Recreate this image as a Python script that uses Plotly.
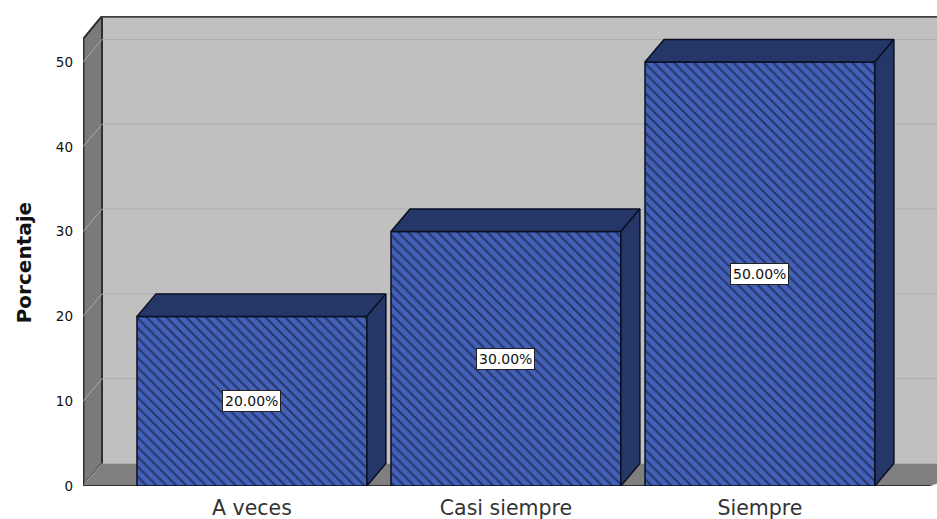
import plotly.graph_objects as go

categories = ["A veces", "Casi siempre", "Siempre"]
values = [20, 30, 50]
labels = ["20.00%", "30.00%", "50.00%"]
y_ticks = [0, 10, 20, 30, 40, 50]
y_title = "Porcentaje"

BAR_W = 0.905
DX = 19 / 254
DY = 22.5 / 8.48
XMIN, XMAX = -0.665, 2.697
YTOP = 55.42
FLOOR_END = 2.672
BLUE_SIDE = "#253668"
FONT = "DejaVu Sans"

fig = go.Figure()

fig.add_trace(go.Bar(
    x=list(range(len(categories))), y=values, width=BAR_W,
    marker=dict(color="#3f5cae", line=dict(color="#0a1020", width=1.5),
                pattern=dict(shape="\\", size=7, solidity=0.3,
                             fgcolor="#070c1c", bgcolor="#4361b8")),
    hoverinfo="skip", showlegend=False))

for i, v in enumerate(values):
    l, r = i - BAR_W / 2, i + BAR_W / 2
    fig.add_trace(go.Scatter(
        x=[l, l + DX, r + DX, r, l], y=[v, v + DY, v + DY, v, v],
        fill="toself", fillcolor=BLUE_SIDE, mode="lines",
        line=dict(color="#0a1020", width=1.5), hoverinfo="skip", showlegend=False))
    fig.add_trace(go.Scatter(
        x=[r, r + DX, r + DX, r, r], y=[0, DY, v + DY, v, 0],
        fill="toself", fillcolor=BLUE_SIDE, mode="lines",
        line=dict(color="#0a1020", width=1.5), hoverinfo="skip", showlegend=False))
    fig.add_annotation(x=i, y=v / 2, text=labels[i], showarrow=False,
                       font=dict(family=FONT, size=14, color="#111111"),
                       bgcolor="white", bordercolor="#222222", borderwidth=1, borderpad=2)

fig.add_annotation(xref="paper", yref="paper", x=-0.069, y=0.474, text="<b>" + y_title + "</b>",
                   textangle=-90, showarrow=False, xanchor="center", yanchor="middle",
                   font=dict(family=FONT, size=20, color="#111111"))

shapes = []
# back wall
shapes.append(dict(type="rect", x0=XMIN + DX, x1=XMAX + 0.2, y0=DY, y1=YTOP,
                   fillcolor="#c0c0c0", line=dict(width=0), layer="below"))
# left wall
shapes.append(dict(type="path", layer="below", fillcolor="#7a7a7a",
                   line=dict(color="#303030", width=2),
                   path=f"M {XMIN+0.002} 0 L {XMIN+DX} {DY} L {XMIN+DX} {YTOP} L {XMIN+0.002} {YTOP-DY} Z"))
# floor
shapes.append(dict(type="path", layer="below", fillcolor="#7f7f7f", line=dict(width=0),
                   path=f"M {XMIN} 0 L {XMIN+DX} {DY} L {XMAX+0.2} {DY} L {FLOOR_END} 0 Z"))
# grid lines
for t in y_ticks:
    if t:
        shapes.append(dict(type="line", layer="below", x0=XMIN + DX, x1=XMAX + 0.2,
                           y0=t + DY, y1=t + DY, line=dict(color="#adadad", width=1)))
    shapes.append(dict(type="line", layer="below", x0=XMIN, x1=XMIN + DX,
                       y0=t, y1=t + DY, line=dict(color="#a8a8a8", width=1)))
# frame lines
shapes.append(dict(type="line", layer="below", x0=XMIN + DX, x1=XMAX + 0.2, y0=YTOP - 0.1, y1=YTOP - 0.1,
                   line=dict(color="#404040", width=2)))
shapes.append(dict(type="line", layer="below", x0=XMIN, x1=FLOOR_END, y0=0, y1=0,
                   line=dict(color="#303030", width=2)))

fig.update_layout(
    width=937, height=519, autosize=False,
    margin=dict(l=83, r=0, t=16, b=33, autoexpand=False),
    paper_bgcolor="white", plot_bgcolor="white",
    shapes=shapes, showlegend=False,
    xaxis=dict(range=[XMIN, XMAX], tickvals=list(range(len(categories))), ticktext=categories,
               showgrid=False, zeroline=False, showline=False, ticks="",
               tickfont=dict(family=FONT, size=20.5, color="#333333"), ticklabelstandoff=7),
    yaxis=dict(range=[0, YTOP], tickvals=y_ticks, showgrid=False, zeroline=False, showline=False,
               ticks="", tickfont=dict(family=FONT, size=13.5, color="#111111"), ticklabelstandoff=9),
)
fig.write_html("out.html", config={"displayModeBar": False},
               post_script="document.body.style.margin='0';document.body.style.overflow='hidden';")
